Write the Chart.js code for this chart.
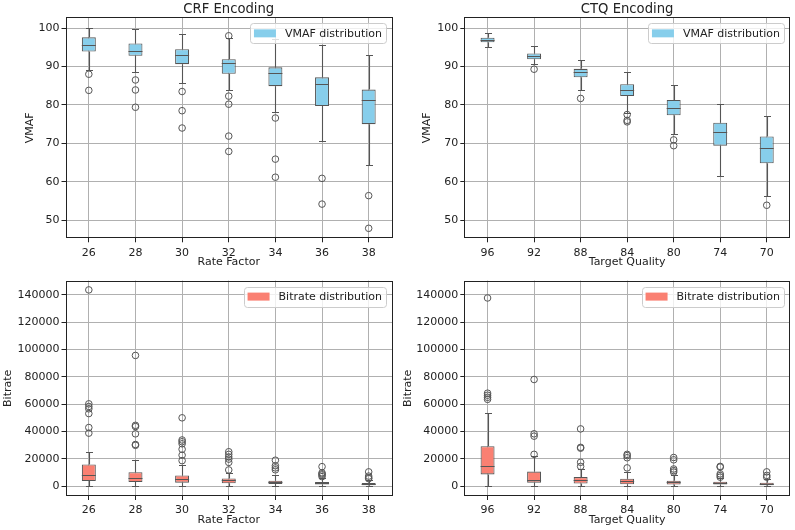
<!DOCTYPE html>
<html>
<head>
<meta charset="utf-8">
<script src="https://cdn.jsdelivr.net/npm/chart.js@4.4.1/dist/chart.umd.min.js"></script>
<style>
  html, body { margin: 0; padding: 0; background: #fff; }
  #wrap { position: relative; width: 795px; height: 530px; overflow: hidden; background: #fff; }
  canvas { position: absolute; }
</style>
</head>
<body>
<div id="wrap">
  <canvas id="crfVmaf" width="397" height="272" style="left:0;top:0"></canvas>
  <canvas id="ctqVmaf" width="398" height="272" style="left:397px;top:0"></canvas>
  <canvas id="crfBitrate" width="397" height="258" style="left:0;top:272px"></canvas>
  <canvas id="ctqBitrate" width="398" height="258" style="left:397px;top:272px"></canvas>
</div>
<script>
// categories and tick labels
const crfLabels = ["26", "28", "30", "32", "34", "36", "38"];
const ctqLabels = ["96", "92", "88", "84", "80", "74", "70"];
const vmafTicks = [50, 60, 70, 80, 90, 100];
const bitrateTicks = [0, 20000, 40000, 60000, 80000, 100000, 120000, 140000];

// CRF - VMAF box stats
const crfVmafLow = [89.1, 88.6, 85.7, 83.8, 78.1, 70.7, 64.5];
const crfVmafQ1 = [93.9, 92.8, 90.6, 88.1, 84.9, 79.7, 75.0];
const crfVmafMed = [95.7, 94.1, 93.0, 90.8, 88.2, 85.4, 81.2];
const crfVmafQ3 = [97.6, 96.0, 94.5, 91.9, 89.8, 87.2, 84.0];
const crfVmafHigh = [99.9, 99.7, 98.5, 97.3, 97.1, 95.6, 92.9];
const crfVmafOut = [[88.0, 83.8], [86.5, 83.9, 79.4], [83.5, 78.5, 74.0], [98.0, 82.3, 80.2, 71.9, 67.9], [76.6, 65.9, 61.2], [60.9, 54.2], [56.4, 47.9]];

// CTQ - VMAF
const ctqVmafLow = [95.2, 90.7, 83.9, 77.8, 72.4, 61.6, 56.3];
const ctqVmafQ1 = [96.3, 91.9, 87.2, 82.3, 77.3, 69.4, 64.8];
const ctqVmafMed = [96.9, 92.7, 88.6, 83.9, 79.1, 72.9, 68.7];
const ctqVmafQ3 = [97.5, 93.4, 89.4, 85.4, 81.3, 75.4, 71.8];
const ctqVmafHigh = [98.7, 95.4, 91.7, 88.5, 85.1, 80.2, 77.0];
const ctqVmafOut = [[], [89.3], [81.7], [77.5, 76.0, 75.6], [70.9, 69.4], [], [53.9]];

// CRF - Bitrate
const crfBitLow = [300, 300, 300, 300, 200, 100, 100];
const crfBitQ1 = [3800, 3100, 2600, 2100, 1700, 1200, 700];
const crfBitMed = [8100, 6200, 5500, 4300, 3100, 2400, 1700];
const crfBitQ3 = [15900, 10200, 7900, 5700, 4000, 3100, 2400];
const crfBitHigh = [25000, 19500, 15600, 9500, 8000, 5900, 4300];
const crfBitOut = [
  [143500, 60200, 58300, 56600, 53100, 42900, 38800],
  [95600, 44500, 43600, 38300, 30500, 29900],
  [50000, 33800, 32500, 31000, 27000, 22700, 18700],
  [25200, 23300, 21400, 19800, 17400, 11900],
  [19000, 15000, 13400, 12000],
  [14300, 9800, 9000, 8200, 7000],
  [10500, 7400, 6200, 5500]
];

// CTQ - Bitrate
const ctqBitLow = [500, 400, 300, 200, 200, 100, 100];
const ctqBitQ1 = [8600, 2600, 1900, 1400, 1200, 1200, 700];
const ctqBitMed = [15000, 4800, 4300, 3600, 2900, 2600, 1500];
const ctqBitQ3 = [29300, 10700, 6700, 5500, 4000, 3300, 2600];
const ctqBitHigh = [53800, 22000, 12800, 10300, 8400, 6200, 5000];
const ctqBitOut = [
  [137600, 68000, 66500, 65000, 63500],
  [78000, 38300, 36600, 23300],
  [41900, 28400, 27800, 17500, 14500],
  [23300, 22400, 20800, 13400],
  [21000, 19300, 12600, 11400, 10300],
  [14500, 14000, 9000, 7800, 6600],
  [10500, 7900, 6600]
];

const EDGE = "#555555";
const GRID = "#b0b0b0";
const TEXT = "#222222";
Chart.defaults.font.family = "'DejaVu Sans', sans-serif";
Chart.defaults.font.size = 11;
Chart.defaults.color = TEXT;

// whiskers, caps and medians, placed with the chart's own scales
const boxPlugin = {
  id: "boxplot",
  afterDatasetsDraw(chart, args, opts) {
    const { ctx, chartArea } = chart;
    const y = chart.scales.y;
    const meta = chart.getDatasetMeta(0);
    ctx.save();
    ctx.beginPath();
    ctx.rect(chartArea.left, chartArea.top, chartArea.right - chartArea.left, chartArea.bottom - chartArea.top);
    ctx.clip();
    ctx.strokeStyle = EDGE;
    ctx.lineWidth = 1.1;
    meta.data.forEach((bar, i) => {
      const cx = Math.round(bar.x) + 0.5;
      const half = bar.width / 2;
      const cap = bar.width / 4;
      const q1 = y.getPixelForValue(opts.q1[i]);
      const q3 = y.getPixelForValue(opts.q3[i]);
      const lo = Math.round(y.getPixelForValue(opts.low[i])) + 0.5;
      const hi = Math.round(y.getPixelForValue(opts.high[i])) + 0.5;
      const md = Math.round(y.getPixelForValue(opts.med[i])) + 0.5;
      ctx.beginPath();
      ctx.moveTo(cx, q3); ctx.lineTo(cx, hi);
      ctx.moveTo(cx, q1); ctx.lineTo(cx, lo);
      ctx.moveTo(cx - cap, hi); ctx.lineTo(cx + cap, hi);
      ctx.moveTo(cx - cap, lo); ctx.lineTo(cx + cap, lo);
      ctx.stroke();
      ctx.beginPath();
      ctx.moveTo(bar.x - half, md); ctx.lineTo(bar.x + half, md);
      ctx.stroke();
    });
    ctx.restore();
  }
};

// full axes frame
const framePlugin = {
  id: "frame",
  afterDatasetsDraw(chart) {
    const { ctx, chartArea: a } = chart;
    ctx.save();
    ctx.strokeStyle = TEXT;
    ctx.lineWidth = 1;
    ctx.strokeRect(Math.round(a.left) + 0.5, Math.round(a.top) + 0.5, Math.round(a.right - a.left) - 1, Math.round(a.bottom - a.top) - 1);
    ctx.restore();
  }
};

// matplotlib-like legend inside the upper right corner
const legendPlugin = {
  id: "innerLegend",
  afterDraw(chart) {
    const { ctx, chartArea: a } = chart;
    const ds = chart.data.datasets[0];
    ctx.save();
    ctx.font = "11px 'DejaVu Sans', sans-serif";
    const tw = ctx.measureText(ds.label).width;
    const w = 4 + 22 + 9 + tw + 4;
    const h = 20;
    const x = a.right - 6 - w;
    const yTop = a.top + 6;
    ctx.fillStyle = "rgba(255,255,255,0.8)";
    ctx.strokeStyle = "#cccccc";
    ctx.lineWidth = 1;
    ctx.beginPath();
    ctx.roundRect(Math.round(x) + 0.5, Math.round(yTop) + 0.5, Math.round(w), h, 3);
    ctx.fill();
    ctx.stroke();
    ctx.fillStyle = ds.backgroundColor;
    ctx.fillRect(x + 4, yTop + 6, 22, 8);
    ctx.fillStyle = TEXT;
    ctx.textBaseline = "middle";
    ctx.fillText(ds.label, x + 35, yTop + h / 2 + 0.5);
    ctx.restore();
  }
};

function makeBoxChart(id, cfg) {
  const outliers = cfg.out.flatMap((vals, i) => vals.map(v => ({ x: cfg.labels[i], y: v })));
  return new Chart(document.getElementById(id), {
    type: "bar",
    data: {
      labels: cfg.labels,
      datasets: [
        {
          label: cfg.legend,
          data: cfg.q1.map((v, i) => [v, cfg.q3[i]]),
          backgroundColor: cfg.fill,
          borderColor: EDGE,
          borderWidth: 1.1,
          borderSkipped: false,
          barPercentage: 0.3,
          categoryPercentage: 1
        },
        {
          type: "line",
          label: "outliers",
          data: outliers,
          showLine: false,
          pointRadius: 3.3,
          pointBorderWidth: 1,
          pointBorderColor: EDGE,
          pointBackgroundColor: "rgba(0,0,0,0)"
        }
      ]
    },
    options: {
      responsive: false,
      animation: false,
      layout: { padding: cfg.pad },
      plugins: {
        legend: { display: false },
        tooltip: { enabled: false },
        title: cfg.title
          ? { display: true, fullSize: false, text: cfg.title, color: TEXT, font: { size: 13.2, weight: "normal" }, padding: { top: 1.2, bottom: 0.3 } }
          : { display: false },
        boxplot: { low: cfg.low, q1: cfg.q1, med: cfg.med, q3: cfg.q3, high: cfg.high }
      },
      scales: {
        x: {
          offset: true,
          grid: { offset: false, color: GRID, lineWidth: 1, tickLength: 4, tickColor: TEXT },
          border: { display: false },
          ticks: { maxRotation: 0, padding: 4, color: TEXT },
          afterFit: s => { s.height = cfg.xHeight; },
          title: { display: true, text: cfg.xTitle, color: TEXT, padding: { top: 0, bottom: cfg.xTitlePad } }
        },
        y: {
          min: cfg.yMin,
          max: cfg.yMax,
          afterBuildTicks: s => { s.ticks = cfg.ticks.map(v => ({ value: v })); },
          afterFit: s => { s.width = cfg.yWidth; },
          grid: { color: GRID, lineWidth: 1, tickLength: 4, tickColor: TEXT },
          border: { display: false },
          ticks: { callback: v => String(v), padding: 2, color: TEXT },
          title: { display: true, text: cfg.yTitle, color: TEXT, padding: { top: cfg.yTitlePad, bottom: 0 } }
        }
      }
    },
    plugins: [boxPlugin, framePlugin, legendPlugin]
  });
}

makeBoxChart("crfVmaf", {
  labels: crfLabels, ticks: vmafTicks, title: "CRF Encoding", legend: "VMAF distribution", fill: "#87CEEB",
  low: crfVmafLow, q1: crfVmafQ1, med: crfVmafMed, q3: crfVmafQ3, high: crfVmafHigh, out: crfVmafOut,
  yMin: 45.3, yMax: 102.8, xTitle: "Rate Factor", yTitle: "VMAF",
  pad: { left: 0, right: 4, top: 0, bottom: 0 }, yWidth: 65.5, xHeight: 33.7, yTitlePad: 23.4, xTitlePad: 3.4
});
makeBoxChart("ctqVmaf", {
  labels: ctqLabels, ticks: vmafTicks, title: "CTQ Encoding", legend: "VMAF distribution", fill: "#87CEEB",
  low: ctqVmafLow, q1: ctqVmafQ1, med: ctqVmafMed, q3: ctqVmafQ3, high: ctqVmafHigh, out: ctqVmafOut,
  yMin: 45.3, yMax: 102.8, xTitle: "Target Quality", yTitle: "VMAF",
  pad: { left: 0, right: 3, top: 0, bottom: 0 }, yWidth: 67.3, xHeight: 33.7, yTitlePad: 23.4, xTitlePad: 3.4
});
makeBoxChart("crfBitrate", {
  labels: crfLabels, ticks: bitrateTicks, title: null, legend: "Bitrate distribution", fill: "#FA8072",
  low: crfBitLow, q1: crfBitQ1, med: crfBitMed, q3: crfBitQ3, high: crfBitHigh, out: crfBitOut,
  yMin: -7150, yMax: 150300, xTitle: "Rate Factor", yTitle: "Bitrate",
  pad: { left: 0, right: 4, top: 4, bottom: 0 }, yWidth: 65.5, xHeight: 34, yTitlePad: 1.9, xTitlePad: 2.9
});
makeBoxChart("ctqBitrate", {
  labels: ctqLabels, ticks: bitrateTicks, title: null, legend: "Bitrate distribution", fill: "#FA8072",
  low: ctqBitLow, q1: ctqBitQ1, med: ctqBitMed, q3: ctqBitQ3, high: ctqBitHigh, out: ctqBitOut,
  yMin: -7150, yMax: 150300, xTitle: "Target Quality", yTitle: "Bitrate",
  pad: { left: 0, right: 3, top: 4, bottom: 0 }, yWidth: 67.3, xHeight: 34, yTitlePad: 4.4, xTitlePad: 2.9
});
</script>
</body>
</html>
